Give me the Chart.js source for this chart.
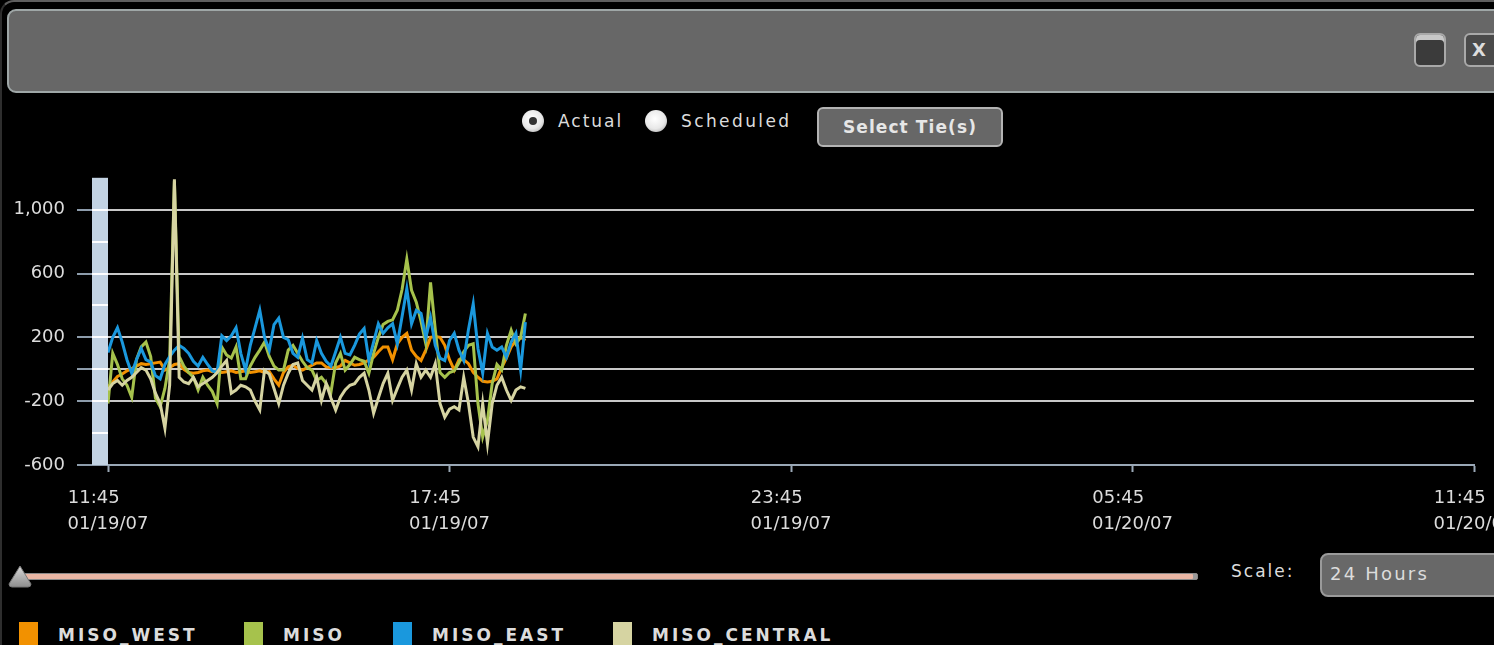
<!DOCTYPE html>
<html>
<head>
<meta charset="utf-8">
<title>Tie Flows</title>
<script src="https://cdn.jsdelivr.net/npm/chart.js@4.4.0/dist/chart.umd.min.js"></script>
<style>
    html, body {
        margin: 0;
        padding: 0;
        width: 1494px;
        height: 645px;
        overflow: hidden;
        background: #000;
        font-family: "DejaVu Sans", sans-serif;
        color: #dcdcdc;
    }
    .frame {
        position: absolute;
        left: 0;
        top: 0;
        width: 1600px;
        height: 700px;
        border-top: 2px solid #5e5e5e;
        border-left: 2px solid #2e2e2e;
        border-radius: 14px 0 0 0;
        box-sizing: border-box;
    }
    .header {
        position: absolute;
        left: 7px;
        top: 9px;
        width: 1560px;
        height: 84px;
        background: #676767;
        border: 2px solid #9fa7a7;
        border-radius: 9px;
        box-sizing: border-box;
    }
    .icon-max {
        position: absolute;
        left: 1414px;
        top: 33px;
        width: 32px;
        height: 34px;
        border: 2px solid #a9a9a9;
        border-radius: 6px;
        background: #3b3b3b;
        box-sizing: border-box;
        box-shadow: inset 0 5px 0 #c8c8c8;
    }
    .icon-close {
        position: absolute;
        left: 1464px;
        top: 33px;
        width: 40px;
        height: 34px;
        border: 2px solid #a9a9a9;
        border-radius: 6px;
        background: #4a4a4a;
        box-sizing: border-box;
        font: bold 18px "DejaVu Sans", sans-serif;
        color: #ddd;
        line-height: 30px;
        padding-left: 6px;
    }
    .radio {
        position: absolute;
        top: 110px;
        width: 22px;
        height: 22px;
        border-radius: 50%;
        background: radial-gradient(circle at 45% 40%, #ffffff 0%, #e8e8e8 55%, #9a9a9a 100%);
    }
    .radio.on::after {
        content: "";
        position: absolute;
        left: 7px;
        top: 7px;
        width: 8px;
        height: 8px;
        border-radius: 50%;
        background: #333;
    }
    .label {
        position: absolute;
        font-size: 17px;
        line-height: 22px;
        letter-spacing: 2px;
        color: #dcdcdc;
        white-space: nowrap;
    }
    .button {
        position: absolute;
        left: 817px;
        top: 107px;
        width: 186px;
        height: 40px;
        background: #676767;
        border: 2px solid #b4b4b4;
        border-radius: 6px;
        box-sizing: border-box;
        text-align: center;
        font: bold 17px "DejaVu Sans", sans-serif;
        letter-spacing: 1.1px;
        line-height: 36px;
        color: #e6e6e6;
    }
    #chartWrap {
        position: absolute;
        left: 0;
        top: 155px;
    }
    .track {
        position: absolute;
        left: 22px;
        top: 573px;
        width: 1176px;
        height: 7px;
        background: #e9b6a4;
        border: 1px solid #8a8a8a;
        border-radius: 2px;
        box-sizing: border-box;
        box-shadow: inset -4px 0 0 #9a9a9a;
    }
    .thumb {
        position: absolute;
        left: 8px;
        top: 564px;
    }
    .dropdown {
        position: absolute;
        left: 1320px;
        top: 553px;
        width: 200px;
        height: 44px;
        background: #686868;
        border: 2px solid #9a9a9a;
        border-radius: 8px;
        box-sizing: border-box;
    }
    .legend-box {
        position: absolute;
        top: 622px;
        width: 19px;
        height: 30px;
    }
    .legend-text {
        position: absolute;
        top: 625px;
        font: bold 17px "DejaVu Sans", sans-serif;
        line-height: 20px;
        letter-spacing: 3px;
        color: #dcdcdc;
        white-space: nowrap;
    }
</style>
</head>
<body>
<div class="frame"></div>
<div class="header"></div>
<div class="icon-max"></div>
<div class="icon-close">X</div>

<div class="radio on" style="left:522px"></div>
<div class="label" style="left:558px; top:110px">Actual</div>
<div class="radio" style="left:645px"></div>
<div class="label" style="left:681px; top:110px; letter-spacing:2.4px">Scheduled</div>
<div class="button">Select Tie(s)</div>

<div id="chartWrap"><canvas id="chartTieFlow" width="1560" height="385"></canvas></div>

<div class="track"></div>
<svg class="thumb" width="26" height="26" viewBox="0 0 26 26">
    <defs>
        <linearGradient id="thumbGrad" x1="0" y1="0" x2="0" y2="1">
            <stop offset="0" stop-color="#d8d8d8"/>
            <stop offset="1" stop-color="#8e8e8e"/>
        </linearGradient>
    </defs>
    <path d="M12 2 L23 20 Q23 23 20 23 L4 23 Q1 23 1 20 Z" fill="url(#thumbGrad)" stroke="#777" stroke-width="1"/>
</svg>
<div class="label" style="left:1231px; top:560px">Scale:</div>
<div class="dropdown"></div>
<div class="label" style="left:1330px; top:563px; font-size:18px; letter-spacing:2.2px">24 Hours</div>

<div id="legend"></div>

<script>
// Series names + colours (order = legend order)
const seriesNames = ["MISO_WEST", "MISO", "MISO_EAST", "MISO_CENTRAL"];
const seriesColors = ["#f29100", "#a6c24c", "#1a98dd", "#d6d4a2"];

// Sampling: every 5 minutes starting 11:45 01/19/07
const stepMinutes = 5;

// Values (MW)
const misoWest = [
    -110, -80, -45, -30, -10, 5, 20, 35, 30, 35,
    40, 45, -5, 10, 30, 35, 0, -20, -25, -20,
    -10, -5, -15, -10, -20, -15, -10, -20, -15, -10,
    -20, -15, -10, -20, -15, -60, -100, -20, 15, 25,
    5, -5, 10, 25, 40, 40, 15, 10, 10, 20,
    55, 40, 25, 30, 40, 60, 75, 110, 140, 140,
    60, 160, 200, 225, 120, 80, 55, 120, 200, 205,
    200, 150, 60, -5, 60, 60, 35, -20, -50, -75,
    -80, -75, -60, 10, 70, 140, 180, 200, 180,
];
const miso = [
    -215, 100, 30, -60, -100, -175, 60, 140, 170, 80,
    -180, -235, -120, 60, 1180, 80, 20, -20, -50, -130,
    -50, -100, -140, -215, 140, 90, 70, 140, -60, -60,
    20, 75, 120, 170, 80, 20, -5, -5, 120, 150,
    100, 50, 10, -5, -70, -50, -90, -145, 40, 100,
    -5, 30, 75, 60, 50, -25, 100, 200, 280, 300,
    310, 370, 500, 690, 495, 420, 300, 160, 545, 250,
    -20, -50, -20, -10, 40, 110, 150, 160, -215, -425,
    -320, -90, 30, -5, 150, 245, 160, 200, 350,
];
const misoEast = [
    105, 200, 260, 170, 60, -25, 60, 130, 60, 45,
    -40, -60, 30, 80, 120, 150, 130, 100, 50, 20,
    75, 30, -10, -20, 210, 180, 210, 260, 100, -5,
    150, 260, 370, 200, 120, 280, 320, 200, 185, 100,
    75, 195, 60, 40, 180, 100, 50, 20, 110, 200,
    100, 90, 150, 220, 255, 55, 170, 285, 225, 260,
    285, 160, 330, 505, 285, 370, 350, 200, 325, 150,
    70, 55, 180, 225, 120, 55, 250, 410, 130, -25,
    225, 140, 120, 140, 75, 170, 225, -5, 295,
];
const misoCentral = [
    -130, -90, -70, -100, -70, -50, -20, 10, -5, -60,
    -150, -215, -370, -100, 1190, -50, -80, -90, -50, -110,
    -90, -70, -50, -20, 20, 55, -150, -130, -100, -110,
    -130, -200, -255, -5, -30, -120, -215, -100, -25, 30,
    40, -70, -100, -130, -50, -195, -90, -180, -255, -175,
    -130, -100, -90, -50, -25, -130, -275, -180, -90, -25,
    -195, -120, -50, -5, -130, 35, -50, -5, -50, 35,
    -215, -300, -250, -235, -255, -50, -215, -425, -485, -215,
    -465, -215, -100, -50, -130, -195, -130, -110, -120,
];

// Axis ticks
const xTickMinutes = [0, 360, 720, 1080, 1440];
const xTimeLabels = ["11:45", "17:45", "23:45", "05:45", "11:45"];
const xDateLabels = ["01/19/07", "01/19/07", "01/19/07", "01/20/07", "01/20/07"];
const yTickValues = [-600, -200, 0, 200, 600, 1000];
const yTickLabels = ["-600", "-200", "", "200", "600", "1,000"];

document.addEventListener("DOMContentLoaded", function () {
    const allSeries = [misoWest, miso, misoEast, misoCentral];

    // legend di bawah (HTML, biar posisinya gampang diatur)
    const legendLeft = [19, 244, 393, 613];
    const legend = document.getElementById("legend");
    seriesNames.forEach((name, i) => {
        const box = document.createElement("div");
        box.className = "legend-box";
        box.style.left = legendLeft[i] + "px";
        box.style.background = seriesColors[i];
        legend.appendChild(box);
        const txt = document.createElement("div");
        txt.className = "legend-text";
        txt.style.left = legendLeft[i] + 39 + "px";
        txt.textContent = name;
        legend.appendChild(txt);
    });

    // light blue band left of the plot with white marks every 200
    const axisBand = {
        id: "axisBand",
        beforeDatasetsDraw(chart) {
            const { ctx, chartArea, scales } = chart;
            const y = scales.y;
            ctx.save();
            ctx.fillStyle = "#c3d3e3";
            ctx.fillRect(chartArea.left - 16, chartArea.top, 16, chartArea.bottom - chartArea.top);
            ctx.strokeStyle = "#ffffff";
            ctx.lineWidth = 2;
            for (let v = -400; v <= 1000; v += 200) {
                const py = Math.round(y.getPixelForValue(v));
                ctx.beginPath();
                ctx.moveTo(chartArea.left - 16, py);
                ctx.lineTo(chartArea.left, py);
                ctx.stroke();
            }
            ctx.restore();
        },
    };

    const drawOrder = [4, 3, 2, 1]; // beige on top, orange at the bottom
    const datasets = allSeries.map((values, i) => ({
        label: seriesNames[i],
        data: values.map((v, k) => ({ x: k * stepMinutes, y: v })),
        borderColor: seriesColors[i],
        borderWidth: 3,
        pointRadius: 0,
        tension: 0,
        fill: false,
        order: drawOrder[i],
    }));

    const pad = "\u00a0\u00a0\u00a0\u00a0\u00a0";
    const ctx = document.getElementById("chartTieFlow").getContext("2d");

    new Chart(ctx, {
        type: "line",
        data: { datasets: datasets },
        plugins: [axisBand],
        options: {
            responsive: false,
            animation: false,
            devicePixelRatio: 1,
            layout: {
                padding: { top: 7, right: 86, left: 0, bottom: 0 },
            },
            plugins: {
                legend: { display: false },
                tooltip: { enabled: false },
            },
            scales: {
                x: {
                    type: "linear",
                    min: 0,
                    max: 1440,
                    afterBuildTicks: (scale) => {
                        scale.ticks = xTickMinutes.map((v) => ({ value: v }));
                    },
                    afterFit: (scale) => {
                        scale.height = 75;
                    },
                    border: { color: "#9aa8b6", width: 2 },
                    grid: {
                        drawOnChartArea: false,
                        drawTicks: true,
                        tickLength: 7,
                        tickColor: "#9aa8b6",
                        tickWidth: 2,
                    },
                    ticks: {
                        autoSkip: false,
                        maxRotation: 0,
                        padding: 13,
                        color: "#dcdcdc",
                        font: { family: "DejaVu Sans", size: 18, lineHeight: 1.45 },
                        callback: (value, index) => [xTimeLabels[index] + pad, xDateLabels[index]],
                    },
                },
                y: {
                    min: -600,
                    max: 1200,
                    afterBuildTicks: (scale) => {
                        scale.ticks = yTickValues.map((v) => ({ value: v }));
                    },
                    afterFit: (scale) => {
                        scale.width = 108;
                    },
                    border: { display: false },
                    grid: {
                        color: "#c8c8c8",
                        lineWidth: 2,
                        drawTicks: true,
                        tickLength: 31,
                        tickColor: "#8d9cab",
                        tickWidth: 2,
                    },
                    ticks: {
                        padding: 12,
                        color: "#dcdcdc",
                        font: { family: "DejaVu Sans", size: 18 },
                        callback: (value, index) => yTickLabels[index],
                    },
                },
            },
        },
    });
});
</script>
</body>
</html>
